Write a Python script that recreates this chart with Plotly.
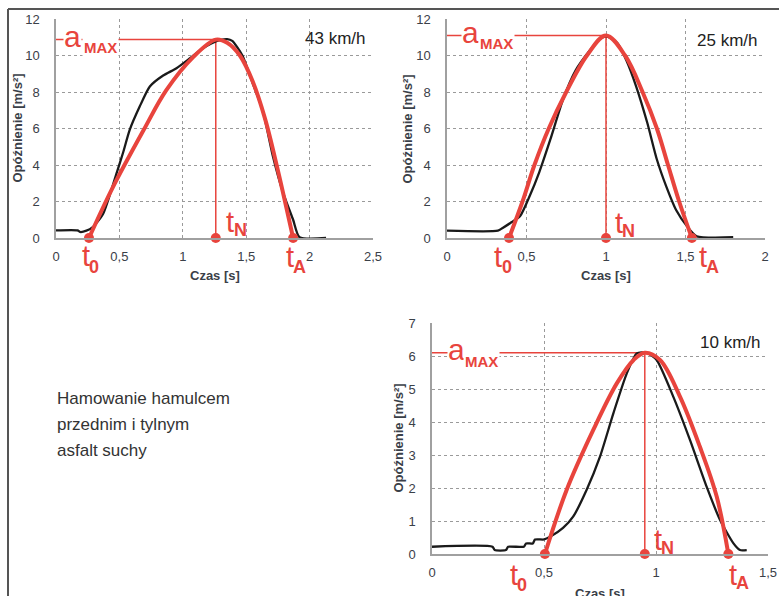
import plotly.graph_objects as go

# ---------------- data ----------------
# Chart 1: 43 km/h
c1_black_x = [0.0, 0.17, 0.19, 0.24, 0.29, 0.37, 0.48, 0.53, 0.58, 0.66, 0.74, 0.845, 0.95, 1.057, 1.16, 1.27, 1.35, 1.39, 1.47, 1.55, 1.63, 1.71, 1.79, 1.87, 1.92, 2.13]
c1_black_y = [0.42, 0.42, 0.33, 0.4, 0.6, 1.3, 3.6, 4.7, 5.9, 7.2, 8.3, 8.9, 9.3, 9.85, 10.4, 10.8, 10.9, 10.8, 10.0, 8.5, 7.0, 4.5, 2.5, 1.0, 0.05, 0.0]
c1_red_x = [0.26, 0.45, 0.69, 0.87, 1.08, 1.26, 1.35, 1.45, 1.55, 1.65, 1.75, 1.87]
c1_red_y = [0.0, 2.8, 5.9, 8.1, 9.9, 10.87, 10.7, 10.0, 8.6, 6.5, 3.7, 0.0]
c1_t0, c1_tN, c1_tA, c1_amax = 0.26, 1.26, 1.87, 10.87

# Chart 2: 25 km/h
c2_black_x = [0.0, 0.32, 0.35, 0.405, 0.46, 0.52, 0.58, 0.65, 0.73, 0.81, 0.90, 0.96, 1.00, 1.07, 1.13, 1.19, 1.26, 1.32, 1.38, 1.44, 1.51, 1.57, 1.80]
c2_black_y = [0.4, 0.4, 0.55, 0.86, 1.2, 2.3, 3.6, 5.4, 7.6, 9.2, 10.3, 10.9, 11.05, 10.7, 9.7, 8.3, 6.3, 4.3, 2.8, 1.55, 0.64, 0.1, 0.04]
c2_red_x = [0.39, 0.475, 0.55, 0.64, 0.75, 0.88, 1.00, 1.12, 1.23, 1.32, 1.39, 1.46, 1.54]
c2_red_y = [0.0, 2.0, 4.0, 6.0, 8.0, 10.0, 11.1, 10.0, 8.0, 6.0, 4.0, 2.0, 0.0]
c2_t0, c2_tN, c2_tA, c2_amax = 0.39, 1.00, 1.54, 11.1

# Chart 3: 10 km/h
c3_black_x = [0.0, 0.27, 0.28, 0.33, 0.34, 0.41, 0.42, 0.45, 0.46, 0.50, 0.527, 0.585, 0.63, 0.69, 0.75, 0.81, 0.87, 0.914, 0.958, 1.003, 1.077, 1.152, 1.226, 1.286, 1.345, 1.375, 1.405]
c3_black_y = [0.22, 0.22, 0.12, 0.12, 0.22, 0.22, 0.32, 0.32, 0.44, 0.44, 0.52, 0.79, 1.13, 1.94, 2.95, 4.27, 5.48, 6.08, 6.1, 5.88, 4.77, 3.45, 2.04, 1.03, 0.33, 0.12, 0.12]
c3_red_x = [0.504, 0.601, 0.72, 0.825, 0.90, 0.95, 1.018, 1.107, 1.196, 1.271, 1.323]
c3_red_y = [0.0, 1.94, 3.76, 5.17, 5.88, 6.1, 5.88, 4.77, 3.25, 1.74, 0.0]
c3_t0, c3_tN, c3_tA, c3_amax = 0.504, 0.95, 1.323, 6.1

# tick labels
c1_xticks = [0, 0.5, 1, 1.5, 2, 2.5]
c1_xtext = ["0", "0,5", "1", "1,5", "2", "2,5"]
c2_xticks = [0, 0.5, 1, 1.5, 2]
c2_xtext = ["0", "0,5", "1", "1,5", "2"]
c3_xticks = [0, 0.5, 1, 1.5]
c3_xtext = ["0", "0,5", "1", "1,5"]
c12_yticks = [0, 2, 4, 6, 8, 10, 12]
c3_yticks = [0, 1, 2, 3, 4, 5, 6, 7]

speeds = ["43 km/h", "25 km/h", "10 km/h"]
note_lines = ["Hamowanie hamulcem", "przednim i tylnym", "asfalt suchy"]
x_title = "Czas [s]"
y_title = "Opóźnienie [m/s²]"

# ---------------- style ----------------
RED = "#e8443d"
BLACK = "#1a1a1a"
TXT = "#3a4048"
FONT = "Liberation Sans, Arial, sans-serif"
W, H = 779, 596

fig = go.Figure()

# px: pixel x of axis start/end, py: pixel y of top/bottom of plot area
charts = [
    dict(ax="", bx=c1_black_x, by=c1_black_y, rx=c1_red_x, ry=c1_red_y,
         t0=c1_t0, tN=c1_tN, tA=c1_tA, amax=c1_amax,
         xr=[0, 2.5], yr=[0, 12], xt=c1_xticks, xtt=c1_xtext, yt=c12_yticks,
         px=(56, 373), py=(19, 238), speed=speeds[0], speed_y=39,
         sub_t0=(-3, -18, 5, -29), sub_tN=(14, 16, 25, 8), sub_tA=(-3, -19, 6, -29),
         a_px=72, max_px=100, a_dy=3, max_dy=-8, ytitle_x=17, xtitle_y=275),
    dict(ax="2", bx=c2_black_x, by=c2_black_y, rx=c2_red_x, ry=c2_red_y,
         t0=c2_t0, tN=c2_tN, tA=c2_tA, amax=c2_amax,
         xr=[0, 2], yr=[0, 12], xt=c2_xticks, xtt=c2_xtext, yt=c12_yticks,
         px=(447, 765), py=(19, 238), speed=speeds[1], speed_y=40,
         sub_t0=(-11, -19, -2, -29), sub_tN=(13, 15, 22, 7), sub_tA=(11, -19, 21, -29),
         a_px=470, max_px=496, a_dy=3, max_dy=-8, ytitle_x=407, xtitle_y=275),
    dict(ax="3", bx=c3_black_x, by=c3_black_y, rx=c3_red_x, ry=c3_red_y,
         t0=c3_t0, tN=c3_tN, tA=c3_tA, amax=c3_amax,
         xr=[0, 1.5], yr=[0, 7], xt=c3_xticks, xtt=c3_xtext, yt=c3_yticks,
         px=(432, 768), py=(323, 554), speed=speeds[2], speed_y=342,
         sub_t0=(-31, -21, -23, -31), sub_tN=(13, 14, 23, 6), sub_tA=(5, -21, 14, -29),
         a_px=456, max_px=481, a_dy=3, max_dy=-9, ytitle_x=398, xtitle_y=593),
]

annotations = []
layout_axes = {}

for c in charts:
    xa = "x" + c["ax"]
    ya = "y" + c["ax"]
    x0p, x1p = c["px"]
    ytp, ybp = c["py"]
    # aMAX horizontal line and tN vertical line
    fig.add_trace(go.Scatter(x=[c["xr"][0], c["tN"]], y=[c["amax"], c["amax"]],
                             mode="lines", line=dict(color=RED, width=1.5),
                             xaxis=xa, yaxis=ya, showlegend=False, hoverinfo="skip"))
    fig.add_trace(go.Scatter(x=[c["tN"], c["tN"]], y=[0, c["amax"]],
                             mode="lines", line=dict(color=RED, width=1.5),
                             xaxis=xa, yaxis=ya, showlegend=False, hoverinfo="skip"))
    # measured curve
    fig.add_trace(go.Scatter(x=c["bx"], y=c["by"], mode="lines",
                             line=dict(color=BLACK, width=2.3, shape="spline", smoothing=0.6),
                             xaxis=xa, yaxis=ya, showlegend=False))
    # idealized curve
    fig.add_trace(go.Scatter(x=c["rx"], y=c["ry"], mode="lines",
                             line=dict(color=RED, width=4, shape="spline", smoothing=1.0),
                             xaxis=xa, yaxis=ya, showlegend=False))
    # markers
    fig.add_trace(go.Scatter(x=[c["t0"], c["tN"], c["tA"]], y=[0, 0, 0], mode="markers",
                             marker=dict(color=RED, size=10),
                             xaxis=xa, yaxis=ya, showlegend=False, cliponaxis=False))

    layout_axes["xaxis" + c["ax"]] = dict(
        domain=[x0p / W, x1p / W], range=c["xr"], anchor=ya, automargin=False,
        tickvals=c["xt"], ticktext=c["xtt"], showgrid=True, gridcolor="#9a9a9a",
        griddash="dot", gridwidth=1, showline=True, linecolor="#a0a0a0", linewidth=1.5,
        zeroline=False, ticks="", ticklabelstandoff=6,
        tickfont=dict(size=13, color=TXT, family=FONT), fixedrange=True)
    layout_axes["yaxis" + c["ax"]] = dict(
        domain=[1 - ybp / H, 1 - ytp / H], range=c["yr"], anchor=xa, automargin=False,
        tickvals=c["yt"], showgrid=True, gridcolor="#9a9a9a",
        griddash="dot", gridwidth=1, showline=True, linecolor="#a0a0a0", linewidth=1.5,
        zeroline=False, ticks="", ticklabelstandoff=12,
        tickfont=dict(size=13, color=TXT, family=FONT), fixedrange=True)

    # speed label
    annotations.append(dict(text=c["speed"], x=(x1p - 6) / W, y=1 - c["speed_y"] / H,
                            xref="paper", yref="paper", xanchor="right", yanchor="middle",
                            showarrow=False, font=dict(size=17, color="#222", family=FONT)))
    # a MAX
    annotations.append(dict(text="a", x=c["a_px"] / W, y=c["amax"], xref="paper", yref=ya,
                            xanchor="center", yanchor="middle", yshift=c["a_dy"],
                            showarrow=False, bgcolor="white", borderpad=0,
                            font=dict(size=30, color=RED, family=FONT)))
    annotations.append(dict(text="<b>MAX</b>", x=c["max_px"] / W, y=c["amax"], xref="paper", yref=ya,
                            xanchor="center", yanchor="middle", yshift=c["max_dy"],
                            showarrow=False, bgcolor="white", borderpad=1,
                            font=dict(size=15, color=RED, family=FONT)))
    # t labels
    for key, sub, tv in [("sub_t0", "0", c["t0"]), ("sub_tN", "N", c["tN"]), ("sub_tA", "A", c["tA"])]:
        ox, oy, sx, sy = c[key]
        annotations.append(dict(text="t", x=tv, y=0, xref=xa, yref=ya, xshift=ox, yshift=oy,
                                xanchor="center", yanchor="middle",
                                showarrow=False, font=dict(size=29, color=RED, family=FONT)))
        annotations.append(dict(text="<b>" + sub + "</b>", x=tv, y=0, xref=xa, yref=ya,
                                xshift=sx, yshift=sy, xanchor="center", yanchor="middle",
                                showarrow=False, font=dict(size=18, color=RED, family=FONT)))
    # axis titles
    annotations.append(dict(text="<b>" + y_title + "</b>", x=c["ytitle_x"] / W,
                            y=1 - ((ytp + ybp) / 2) / H, xref="paper", yref="paper",
                            xanchor="center", yanchor="middle",
                            textangle=-90, showarrow=False,
                            font=dict(size=13, color=TXT, family=FONT)))
    annotations.append(dict(text="<b>" + x_title + "</b>", x=(x0p + x1p) / 2 / W,
                            y=1 - c["xtitle_y"] / H, xref="paper", yref="paper",
                            xanchor="center", yanchor="middle",
                            showarrow=False, font=dict(size=13, color=TXT, family=FONT)))

# note text
for i, line in enumerate(note_lines):
    annotations.append(dict(text=line, x=55 / W, y=1 - (398 + 26 * i) / H, xref="paper", yref="paper",
                            xanchor="left", yanchor="middle", showarrow=False,
                            font=dict(size=17, color="#333", family=FONT)))

fig.update_layout(
    width=W, height=H, margin=dict(l=0, r=0, t=0, b=0, autoexpand=False),
    paper_bgcolor="white", plot_bgcolor="white",
    annotations=annotations,
    shapes=[
        dict(type="line", xref="paper", yref="paper", x0=8 / W, x1=1.01, y0=1 - 9 / H, y1=1 - 9 / H,
             line=dict(color="#555", width=2)),
        dict(type="line", xref="paper", yref="paper", x0=8 / W, x1=8 / W, y0=-0.01, y1=1 - 9 / H,
             line=dict(color="#555", width=2)),
    ],
    showlegend=False,
    **layout_axes,
)

fig.write_html("out.html", config={"displayModeBar": False})
